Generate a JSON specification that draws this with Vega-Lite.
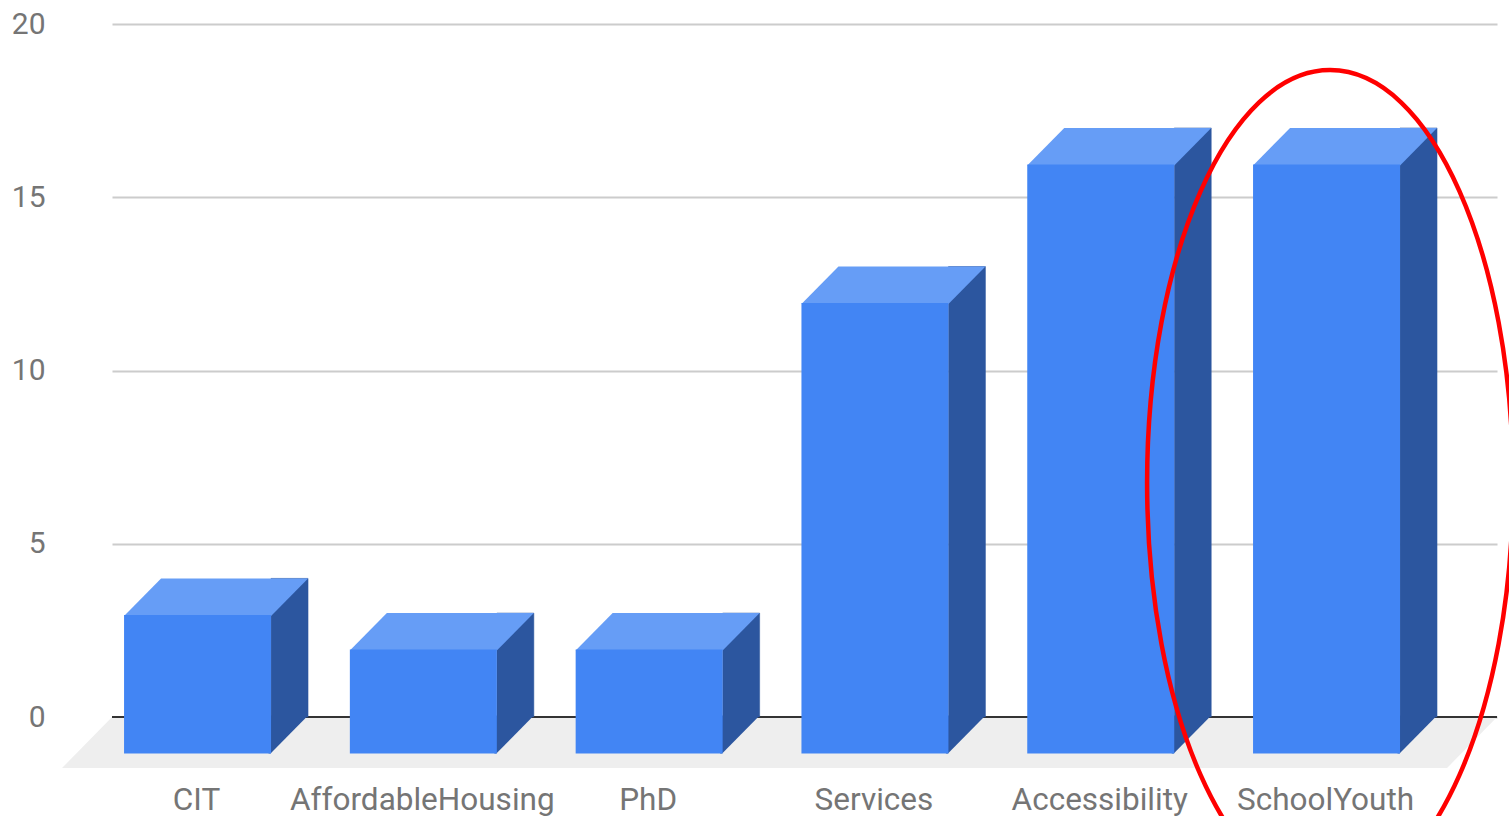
{
  "$schema": "https://vega.github.io/schema/vega-lite/v6.json",
  "autosize": {"type": "none"},
  "padding": {"left": 112, "top": 24, "right": 12, "bottom": 99},
  "width": 1385,
  "height": 693,
  "background": "white",
  "config": {
    "view": {"stroke": null},
    "font": "Roboto",
    "axisY": {"domain": false, "ticks": false, "tickSize": 0, "labelPadding": 67, "labelFontSize": 30, "labelFont": "Roboto", "labelColor": "#757575", "gridColor": "#CCCCCC", "gridWidth": 2, "tickCount": 5, "title": null},
    "axisX": {"domain": false, "ticks": false, "tickSize": 0, "grid": false, "labelPadding": 67, "labelFontSize": 31.5, "labelLimit": 600, "labelFont": "Roboto", "labelColor": "#757575", "labelAngle": 0, "labelOffset": -38, "labelOverlap": false, "title": null}
  },
  "datasets": {
    "bars": [
      {"category": "CIT", "value": 4},
      {"category": "AffordableHousing", "value": 3},
      {"category": "PhD", "value": 3},
      {"category": "Services", "value": 13},
      {"category": "Accessibility", "value": 17},
      {"category": "SchoolYouth", "value": 17}
    ],
    "floor": [{"category": "CIT", "base": 0}],
    "note": [{"category": "SchoolYouth", "level": 6.75}]
  },
  "layer": [
    {
      "data": {"name": "floor"},
      "mark": {"type": "point", "shape": "M -1.225 0 L 12.625 0 L 12.125 0.51 L -1.725 0.51 Z", "size": 40000, "filled": true, "opacity": 1, "color": "#EEEEEE", "strokeWidth": 0},
      "encoding": {
        "x": {"field": "category", "type": "nominal", "sort": null, "scale": {"domain": ["CIT", "AffordableHousing", "PhD", "Services", "Accessibility", "SchoolYouth"], "paddingInner": 0.349, "paddingOuter": 0.2414, "align": 0.45}, "title": null},
        "y": {"field": "base", "type": "quantitative", "scale": {"domain": [0, 20], "nice": false}, "title": null}
      }
    },
    {
      "data": {"name": "floor"},
      "mark": {"type": "rule", "color": "#333333", "strokeWidth": 2},
      "encoding": {
        "y": {"field": "base", "type": "quantitative", "scale": {"domain": [0, 20], "nice": false}, "title": null}
      }
    },
    {
      "data": {"name": "bars"},
      "mark": {"type": "bar", "width": 37, "xOffset": 55, "color": "#2C569F", "stroke": "#2C569F", "strokeWidth": 0.5},
      "encoding": {
        "x": {"field": "category", "type": "nominal", "sort": null, "scale": {"domain": ["CIT", "AffordableHousing", "PhD", "Services", "Accessibility", "SchoolYouth"], "paddingInner": 0.349, "paddingOuter": 0.2414, "align": 0.45}, "title": null},
        "y": {"field": "value", "type": "quantitative", "scale": {"domain": [0, 20], "nice": false}, "title": null}
      }
    },
    {
      "data": {"name": "bars"},
      "mark": {"type": "point", "shape": "M 0.34 -0.015 L 0.34 0.365 L 0.36 0.365 L 0.735 -0.015 Z", "size": 40000, "filled": true, "opacity": 1, "color": "#2C569F", "strokeWidth": 0},
      "encoding": {
        "x": {"field": "category", "type": "nominal", "sort": null, "scale": {"domain": ["CIT", "AffordableHousing", "PhD", "Services", "Accessibility", "SchoolYouth"], "paddingInner": 0.349, "paddingOuter": 0.2414, "align": 0.45}, "title": null},
        "y": {"datum": 0, "type": "quantitative", "scale": {"domain": [0, 20], "nice": false}, "title": null}
      }
    },
    {
      "data": {"name": "bars"},
      "mark": {"type": "point", "shape": "M -1.105 0.375 L -0.735 0 L 0.735 0 L 0.365 0.375 Z", "size": 40000, "filled": true, "opacity": 1, "color": "#669DF6", "strokeWidth": 0},
      "encoding": {
        "x": {"field": "category", "type": "nominal", "sort": null, "scale": {"domain": ["CIT", "AffordableHousing", "PhD", "Services", "Accessibility", "SchoolYouth"], "paddingInner": 0.349, "paddingOuter": 0.2414, "align": 0.45}, "title": null},
        "y": {"field": "value", "type": "quantitative", "scale": {"domain": [0, 20], "nice": false}, "title": null}
      }
    },
    {
      "data": {"name": "bars"},
      "mark": {"type": "bar", "xOffset": -37, "x2Offset": -37, "yOffset": 36.5, "y2Offset": 36.5, "color": "#4285F4"},
      "encoding": {
        "x": {"field": "category", "type": "nominal", "sort": null, "scale": {"domain": ["CIT", "AffordableHousing", "PhD", "Services", "Accessibility", "SchoolYouth"], "paddingInner": 0.349, "paddingOuter": 0.2414, "align": 0.45}, "title": null},
        "y": {"field": "value", "type": "quantitative", "scale": {"domain": [0, 20], "nice": false}, "title": null}
      }
    },
    {
      "data": {"name": "note"},
      "mark": {"type": "point", "shape": "M 0.443 0 C 0.443 0.5523 0.2447 1 0 1 C -0.2447 1 -0.443 0.5523 -0.443 0 C -0.443 -0.5523 -0.2447 -1 0 -1 C 0.2447 -1 0.443 -0.5523 0.443 0 Z", "size": 682276, "filled": false, "opacity": 1, "color": "#FF0000", "strokeWidth": 4.5, "xOffset": -33.5},
      "encoding": {
        "x": {"field": "category", "type": "nominal", "sort": null, "scale": {"domain": ["CIT", "AffordableHousing", "PhD", "Services", "Accessibility", "SchoolYouth"], "paddingInner": 0.349, "paddingOuter": 0.2414, "align": 0.45}, "title": null},
        "y": {"field": "level", "type": "quantitative", "scale": {"domain": [0, 20], "nice": false}, "title": null}
      }
    }
  ]
}
